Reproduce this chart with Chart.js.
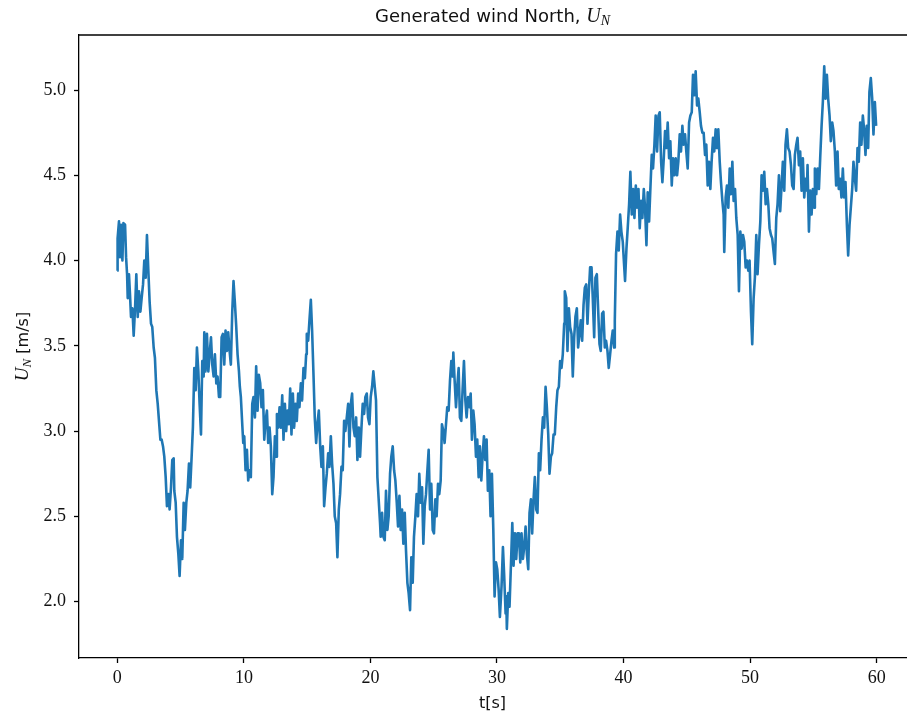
<!DOCTYPE html>
<html>
<head>
<meta charset="utf-8">
<title>Generated wind North</title>
<script src="https://cdn.jsdelivr.net/npm/chart.js@4/dist/chart.umd.min.js"></script>
<style>
  html, body { margin: 0; padding: 0; background: #fff; overflow: hidden; }
  #c { display: block; }
</style>
</head>
<body>
<canvas id="c" width="907" height="717"></canvas>
<script>
// Time stamps [s] of the sampled wind trace
const times = [
  0.00, 0.02, 0.13, 0.21, 0.29, 0.40, 0.48, 0.61, 0.69, 0.77, 0.82, 0.92, 1.00, 1.08, 1.19, 1.29, 1.40, 1.50, 1.61, 1.71,
  1.82, 1.92, 2.03, 2.13, 2.24, 2.34, 2.45, 2.55, 2.66, 2.76, 2.87, 2.97, 3.08, 3.19, 3.29, 3.40, 3.50, 3.61, 3.71, 3.82,
  3.92, 4.03, 4.13, 4.24, 4.34, 4.45, 4.50, 4.61, 4.71, 4.82, 4.92, 5.03, 5.13, 5.24, 5.34, 5.45, 5.55, 5.66, 5.76, 5.87,
  5.97, 6.08, 6.19, 6.29, 6.40, 6.50, 6.61, 6.71, 6.82, 6.87, 6.97, 7.08, 7.19, 7.29, 7.40, 7.50, 7.61, 7.71, 7.82, 7.92,
  8.03, 8.13, 8.24, 8.34, 8.45, 8.55, 8.66, 8.76, 8.87, 8.97, 9.08, 9.18, 9.29, 9.39,
  9.50, 9.61, 9.68, 9.76, 9.87, 9.95, 10.03, 10.13, 10.24, 10.34, 10.45, 10.55, 10.66, 10.76, 10.87, 10.97, 11.08, 11.18, 11.29, 11.39,
  11.50, 11.61, 11.71, 11.82, 11.92, 12.03, 12.13, 12.24, 12.34, 12.45, 12.55, 12.61, 12.71, 12.82, 12.92, 13.03, 13.13, 13.24, 13.34, 13.45,
  13.55, 13.66, 13.76, 13.87, 13.97, 14.08, 14.18, 14.29, 14.39, 14.50, 14.60, 14.71, 14.82, 14.92, 14.97, 15.08, 15.18, 15.29, 15.39, 15.50,
  15.60, 15.71, 15.81, 15.92, 16.03, 16.13, 16.24, 16.34, 16.45, 16.55, 16.66, 16.76, 16.87, 16.97, 17.08, 17.18, 17.29, 17.39, 17.50, 17.60,
  17.71, 17.81, 17.92, 18.02, 18.13, 18.24, 18.34, 18.45, 18.55, 18.66, 18.76, 18.87, 18.97, 19.08, 19.18, 19.29, 19.39, 19.50, 19.60, 19.71,
  19.81, 19.92, 20.02, 20.13, 20.23,
  20.34, 20.44, 20.55, 20.65, 20.76, 20.81, 20.92, 21.02, 21.13, 21.23, 21.34, 21.44, 21.55, 21.65, 21.76, 21.87, 21.97, 22.08, 22.18, 22.29,
  22.39, 22.50, 22.60, 22.71, 22.81, 22.92, 23.02, 23.13, 23.23, 23.34, 23.44, 23.55, 23.65, 23.76, 23.86, 23.97, 24.08, 24.18, 24.29, 24.39,
  24.50, 24.60, 24.71, 24.81, 24.92, 25.02, 25.13, 25.23, 25.34, 25.44, 25.55, 25.65, 25.76, 25.86, 25.97, 26.07, 26.18, 26.29, 26.39, 26.50,
  26.55, 26.65, 26.76, 26.86, 26.97, 27.07, 27.18, 27.28, 27.39, 27.50, 27.60, 27.71, 27.81, 27.92, 28.02, 28.13, 28.23, 28.34, 28.44, 28.55,
  28.65, 28.76, 28.86, 28.97, 29.07, 29.18, 29.28, 29.39, 29.49, 29.60, 29.71, 29.81, 29.92, 30.02, 30.13, 30.23,
  30.36, 30.47, 30.57, 30.68, 30.73, 30.78, 30.89, 30.99, 31.10, 31.21, 31.31, 31.42, 31.52, 31.63, 31.73, 31.84, 31.94, 32.05, 32.15, 32.26,
  32.36, 32.47, 32.57, 32.68, 32.78, 32.89, 32.99, 33.10, 33.20, 33.31, 33.41, 33.52, 33.63, 33.73, 33.84, 33.94, 34.05, 34.15, 34.26, 34.36,
  34.47, 34.57, 34.68, 34.78, 34.89, 34.99, 35.10, 35.20, 35.31, 35.36, 35.47, 35.57, 35.68, 35.78, 35.89, 35.99, 36.10, 36.20, 36.31, 36.41,
  36.52, 36.62, 36.73, 36.84, 36.94, 37.05, 37.15, 37.26, 37.36, 37.47, 37.57, 37.68, 37.78, 37.89, 37.99, 38.10, 38.20, 38.31, 38.41, 38.52,
  38.62, 38.73, 38.83, 38.94, 39.05, 39.15, 39.26, 39.31, 39.41, 39.52, 39.62, 39.73, 39.83, 39.94, 40.04,
  40.12, 40.23, 40.33, 40.44, 40.54, 40.65, 40.76, 40.86, 40.97, 41.07, 41.18, 41.28, 41.39, 41.49, 41.60, 41.70, 41.81, 41.91, 42.02, 42.12,
  42.23, 42.33, 42.44, 42.54, 42.65, 42.76, 42.86, 42.97, 43.07, 43.18, 43.28, 43.39, 43.49, 43.60, 43.70, 43.81, 43.91, 44.02, 44.12, 44.23,
  44.33, 44.44, 44.54, 44.65, 44.75, 44.86, 44.96, 45.07, 45.18, 45.28, 45.39, 45.49, 45.60, 45.70, 45.81, 45.91, 46.02, 46.12, 46.23, 46.33,
  46.44, 46.54, 46.65, 46.75, 46.86, 46.96, 47.07, 47.17, 47.28, 47.38, 47.49, 47.60, 47.70, 47.81, 47.91, 47.96, 48.07, 48.17, 48.28, 48.39,
  48.49, 48.60, 48.70, 48.81, 48.91, 49.02, 49.12, 49.23, 49.33, 49.44, 49.54, 49.65, 49.75, 49.86, 49.96, 50.07, 50.17,
  50.28, 50.38, 50.49, 50.59, 50.70, 50.81, 50.91, 51.02, 51.12, 51.23, 51.33, 51.44, 51.54, 51.65, 51.75, 51.86, 51.96, 52.07, 52.17, 52.28,
  52.38, 52.49, 52.59, 52.70, 52.80, 52.91, 53.01, 53.12, 53.23, 53.33, 53.44, 53.54, 53.65, 53.75, 53.86, 53.96, 54.07, 54.17, 54.28, 54.38,
  54.49, 54.54, 54.65, 54.75, 54.86, 54.96, 55.07, 55.12, 55.23, 55.33, 55.44, 55.54, 55.65, 55.75, 55.86, 55.96, 56.07, 56.17, 56.28, 56.38,
  56.49, 56.59, 56.70, 56.80, 56.91, 57.01, 57.12, 57.22, 57.33, 57.43, 57.54, 57.65, 57.75, 57.86, 57.96, 58.07, 58.17, 58.28, 58.38, 58.49,
  58.59, 58.70, 58.80, 58.91, 59.01, 59.12, 59.22, 59.33, 59.43, 59.54, 59.65, 59.75, 59.86, 59.96
];

// Generated north wind component U_N [m/s] at each time stamp
const windNorth = [
  3.94, 4.13, 4.23, 4.02, 4.21, 4.00, 4.22, 4.21, 4.02, 3.92, 3.78, 3.92, 3.80, 3.67, 3.72, 3.56, 3.72, 3.92, 3.67, 3.82,
  3.70, 3.78, 3.86, 4.00, 3.90, 4.15, 3.94, 3.76, 3.63, 3.61, 3.49, 3.43, 3.24, 3.16, 3.06, 2.95, 2.95, 2.91, 2.85, 2.73,
  2.56, 2.63, 2.54, 2.67, 2.83, 2.84, 2.65, 2.58, 2.38, 2.28, 2.15, 2.36, 2.25, 2.58, 2.42, 2.58, 2.65, 2.81, 2.67, 2.85,
  3.02, 3.37, 3.24, 3.49, 3.35, 3.16, 2.98, 3.41, 3.32, 3.58, 3.35, 3.57, 3.35, 3.45, 3.55, 3.39, 3.32, 3.45, 3.28, 3.32,
  3.20, 3.20, 3.55, 3.57, 3.39, 3.59, 3.47, 3.58, 3.47, 3.39, 3.70, 3.88, 3.75, 3.62,
  3.45, 3.35, 3.26, 3.20, 3.04, 2.93, 2.97, 2.77, 2.89, 2.71, 2.77, 2.73, 3.16, 3.20, 3.08, 3.38, 3.12, 3.33, 3.28, 3.14,
  3.24, 2.95, 3.06, 3.12, 2.93, 3.02, 2.91, 2.63, 2.73, 2.97, 2.85, 3.10, 3.02, 3.14, 3.02, 3.21, 2.95, 3.16, 3.00, 3.12,
  3.04, 3.25, 2.98, 3.22, 3.02, 3.16, 3.06, 3.22, 3.14, 3.28, 3.18, 3.37, 3.31, 3.45, 3.57, 3.53, 3.65, 3.77, 3.59, 3.33,
  3.08, 2.93, 3.04, 3.12, 2.91, 2.79, 2.91, 2.56, 2.67, 2.75, 2.87, 2.79, 2.97, 2.81, 2.69, 2.50, 2.46, 2.26, 2.54, 2.63,
  2.79, 2.77, 3.06, 3.00, 3.08, 3.16, 2.91, 3.16, 3.22, 3.02, 2.97, 3.08, 2.83, 3.02, 2.85, 3.02, 3.16, 3.10, 3.20, 3.22,
  3.08, 3.04, 3.20, 3.26, 3.35,
  3.26, 3.18, 2.73, 2.60, 2.46, 2.38, 2.52, 2.38, 2.36, 2.65, 2.42, 2.50, 2.75, 2.85, 2.91, 2.77, 2.71, 2.58, 2.44, 2.62,
  2.42, 2.54, 2.34, 2.52, 2.30, 2.11, 2.05, 1.95, 2.26, 2.11, 2.38, 2.50, 2.63, 2.50, 2.75, 2.58, 2.67, 2.34, 2.56, 2.63,
  2.77, 2.89, 2.54, 2.69, 2.42, 2.40, 2.60, 2.50, 2.69, 2.63, 2.71, 3.04, 3.00, 2.93, 3.04, 3.14, 3.12, 3.30, 3.41, 3.32,
  3.46, 3.30, 3.14, 3.26, 3.37, 3.08, 3.06, 3.24, 3.41, 3.18, 3.08, 3.20, 3.14, 3.22, 2.95, 3.12, 3.04, 2.85, 2.95, 2.73,
  2.91, 2.71, 2.85, 2.97, 2.83, 2.95, 2.65, 2.77, 2.50, 2.75, 2.42, 2.03, 2.23, 2.19, 2.07, 1.91,
  2.09, 2.32, 2.15, 1.93, 2.03, 1.84, 2.05, 1.97, 2.21, 2.46, 2.21, 2.40, 2.25, 2.40, 2.40, 2.23, 2.40, 2.25, 2.32, 2.44,
  2.28, 2.19, 2.52, 2.60, 2.40, 2.60, 2.73, 2.54, 2.52, 2.87, 2.77, 2.95, 3.08, 3.02, 3.26, 3.14, 2.98, 2.75, 2.85, 2.87,
  2.98, 2.98, 3.14, 3.24, 3.26, 3.41, 3.37, 3.45, 3.63, 3.82, 3.78, 3.47, 3.72, 3.61, 3.57, 3.32, 3.55, 3.67, 3.72, 3.49,
  3.57, 3.65, 3.53, 3.74, 3.84, 3.86, 3.63, 3.82, 3.96, 3.96, 3.78, 3.55, 3.90, 3.92, 3.72, 3.51, 3.47, 3.69, 3.70, 3.49,
  3.53, 3.47, 3.37, 3.45, 3.53, 3.59, 3.49, 3.65, 4.04, 4.17, 4.06, 4.27, 4.17, 4.11, 3.98,
  3.88, 4.07, 4.19, 4.33, 4.52, 4.27, 4.42, 4.25, 4.44, 4.31, 4.42, 4.19, 4.35, 4.25, 4.42, 4.31, 4.09, 4.40, 4.23, 4.42,
  4.62, 4.54, 4.68, 4.85, 4.64, 4.85, 4.87, 4.58, 4.46, 4.60, 4.76, 4.66, 4.81, 4.60, 4.70, 4.44, 4.60, 4.50, 4.60, 4.50,
  4.58, 4.74, 4.64, 4.79, 4.68, 4.74, 4.64, 4.54, 4.81, 4.85, 4.87, 5.09, 4.97, 5.11, 4.91, 4.95, 4.87, 4.79, 4.75, 4.75,
  4.62, 4.68, 4.44, 4.58, 4.42, 4.58, 4.72, 4.64, 4.77, 4.66, 4.77, 4.58, 4.46, 4.35, 4.27, 4.05, 4.37, 4.44, 4.31, 4.54,
  4.39, 4.58, 4.35, 4.42, 4.25, 4.15, 3.82, 4.17, 4.07, 4.15, 4.11, 3.96, 4.00, 3.94, 4.00, 3.70, 3.51,
  3.78, 3.90, 4.15, 3.92, 4.09, 4.23, 4.50, 4.41, 4.52, 4.33, 4.42, 4.33, 4.19, 4.15, 4.13, 4.05, 3.98, 4.25, 4.33, 4.50,
  4.29, 4.44, 4.58, 4.41, 4.68, 4.77, 4.66, 4.64, 4.56, 4.44, 4.42, 4.62, 4.68, 4.72, 4.56, 4.64, 4.41, 4.60, 4.37, 4.48,
  4.41, 4.56, 4.17, 4.41, 4.27, 4.42, 4.31, 4.54, 4.39, 4.54, 4.42, 4.60, 4.79, 4.93, 5.14, 4.95, 5.09, 4.95, 4.85, 4.70,
  4.81, 4.76, 4.64, 4.44, 4.64, 4.42, 4.48, 4.37, 4.54, 4.37, 4.46, 4.21, 4.03, 4.21, 4.31, 4.42, 4.58, 4.48, 4.41, 4.66,
  4.58, 4.81, 4.68, 4.85, 4.77, 4.62, 4.79, 4.66, 4.99, 5.07, 4.95, 4.74, 4.93, 4.79
];

// Axis ticks
const xTickValues = [0, 10, 20, 30, 40, 50, 60];
const yTickValues = [2.0, 2.5, 3.0, 3.5, 4.0, 4.5, 5.0];

const TICK_FONT = { family: "'Liberation Serif', 'DejaVu Serif', serif", size: 18 };
const SANS = "'DejaVu Sans', sans-serif";
const MATH = "'Liberation Serif', 'DejaVu Serif', serif";

// Draws one line of mixed text: plain pieces plus an italic symbol with a subscript.
function drawRuns(ctx, runs, x, y, align) {
  let total = 0;
  runs.forEach(r => { ctx.font = r.font; r.w = ctx.measureText(r.text).width; total += r.w; });
  let cx = align === 'center' ? x - total / 2 : x;
  runs.forEach(r => {
    ctx.font = r.font;
    ctx.fillText(r.text, cx, y + (r.dy || 0));
    cx += r.w;
  });
}

const labelsPlugin = {
  id: 'labels',
  afterDraw(chart) {
    const { ctx, chartArea } = chart;
    ctx.save();
    // top spine
    ctx.strokeStyle = '#000';
    ctx.lineWidth = 1.3;
    ctx.beginPath();
    ctx.moveTo(chartArea.left, chartArea.top);
    ctx.lineTo(chartArea.right, chartArea.top);
    ctx.stroke();

    ctx.fillStyle = '#111';
    ctx.textBaseline = 'alphabetic';
    ctx.textAlign = 'left';
    const midX = (chartArea.left + 906) / 2;

    // title
    drawRuns(ctx, [
      { text: 'Generated wind North, ', font: `18px ${SANS}` },
      { text: 'U', font: `italic 20px ${MATH}` },
      { text: 'N', font: `italic 14px ${MATH}`, dy: 3 }
    ], midX, 22, 'center');

    // x-axis label
    drawRuns(ctx, [{ text: 't[s]', font: `16px ${SANS}` }], midX, 708, 'center');

    // y-axis label, rotated
    const midY = (chartArea.top + chartArea.bottom) / 2;
    ctx.translate(28, midY);
    ctx.rotate(-Math.PI / 2);
    drawRuns(ctx, [
      { text: 'U', font: `italic 19px ${MATH}` },
      { text: 'N', font: `italic 13px ${MATH}`, dy: 3 },
      { text: ' [m/s]', font: `16px ${SANS}` }
    ], 0, 0, 'center');
    ctx.restore();
  }
};

new Chart(document.getElementById('c'), {
  type: 'line',
  data: {
    datasets: [{
      data: times.map((t, i) => ({ x: t, y: windNorth[i] })),
      borderColor: '#1f77b4',
      borderWidth: 2.6,
      borderJoinStyle: 'round',
      pointRadius: 0,
      tension: 0,
      fill: false
    }]
  },
  options: {
    responsive: false,
    animation: false,
    devicePixelRatio: 1,
    layout: { padding: { top: 35, right: 0, left: 0, bottom: 0 } },
    plugins: { legend: { display: false }, title: { display: false }, tooltip: { enabled: false } },
    scales: {
      x: {
        type: 'linear',
        min: -3.03,
        max: 62.4,
        afterBuildTicks(scale) { scale.ticks = xTickValues.map(v => ({ value: v })); },
        afterFit(scale) { scale.height = 59; },
        grid: { drawOnChartArea: false, drawTicks: true, tickLength: 5, tickColor: '#000', tickWidth: 1.3 },
        border: { display: true, color: '#000', width: 1.3 },
        ticks: { color: '#111', font: TICK_FONT, padding: 4, maxRotation: 0, callback: v => String(v) }
      },
      y: {
        type: 'linear',
        min: 1.669,
        max: 5.323,
        afterBuildTicks(scale) { scale.ticks = yTickValues.map(v => ({ value: v })); },
        afterFit(scale) { scale.width = 79; },
        grid: { drawOnChartArea: false, drawTicks: true, tickLength: 5, tickColor: '#000', tickWidth: 1.3 },
        border: { display: true, color: '#000', width: 1.3 },
        ticks: { color: '#111', font: TICK_FONT, padding: 8, callback: v => v.toFixed(1) }
      }
    }
  },
  plugins: [labelsPlugin]
});
</script>
</body>
</html>
